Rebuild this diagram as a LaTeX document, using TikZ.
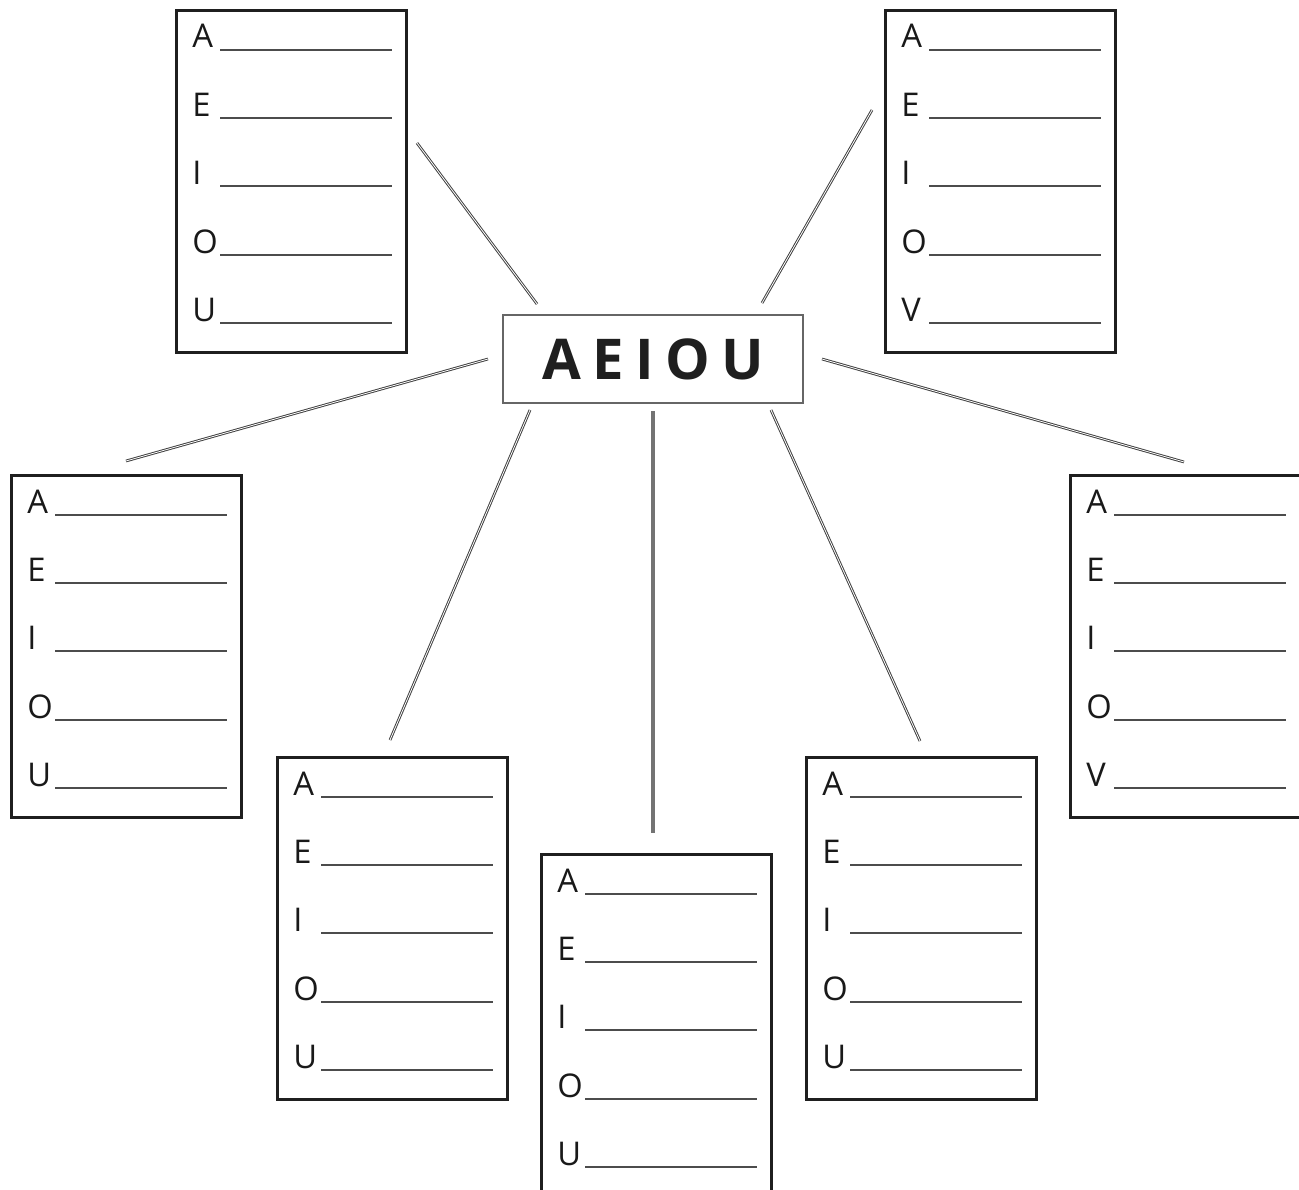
\documentclass[tikz,border=0pt]{standalone}
\usepackage{fontspec}
\setmainfont{Open Sans}
\usetikzlibrary{calc}
\tikzset{
  x=0.02cm, y=-0.02cm,
  card/.style={draw=black!88, line width=1.6pt, fill=white, minimum width=4.6cm, minimum height=6.84cm, inner sep=0pt},
  letter/.style={inner sep=0pt, font=\fontsize{18.6}{20}\selectfont, text=black!90},
  wline/.style={draw=black!70, line width=1.134pt},
  centerbox/.style={draw=black!60, line width=1.2pt, minimum width=6cm, minimum height=1.76cm, inner sep=0pt},
  conn/.style={draw=black!75, line width=0.55pt, double=white, double distance=0.45pt},
  solidconn/.style={draw=black!55, line width=1.9pt}
}
\newcommand{\mycard}[4]{%
  \node[card, anchor=north west] (#1) at (#2,#3) {};
  \foreach \L/\o [count=\i] in {#4} {
    \node[letter, anchor=base west] (#1-l\i) at ($(#1.north west)+(17,\o-2)$) {\L};
    \draw[wline] ($(#1.north west)+(45,\o)$) -- ($(#1.north east)+(-16,\o)$);
  }%
}
\begin{document}
\begin{tikzpicture}
\clip (0,0) rectangle (1299,1190);
\fill[white] (0,0) rectangle (1299,1190);

\mycard{tl}{175}{9}{A/41,E/109,I/177,O/246,U/314}
\mycard{tr}{884}{9}{A/41,E/109,I/177,O/246,V/314}
\mycard{lm}{10}{474}{A/41,E/109,I/177,O/246,U/314}
\mycard{rm}{1069}{474}{A/41,E/109,I/177,O/246,V/314}
\mycard{blc}{276}{756}{A/41,E/109,I/177,O/246,U/314}
\mycard{bc}{540}{853}{A/41,E/109,I/177,O/246,U/314}
\mycard{brc}{805}{756}{A/41,E/109,I/177,O/246,U/314}

\node[centerbox] (center) at (653,359) {\fontsize{32}{34}\selectfont\bfseries\color{black!88}A\kern6.5pt E\kern6.5pt I\kern6.5pt O\kern6.5pt U};

\coordinate (a1) at (537,304); \coordinate (b1) at (417,143);
\coordinate (a2) at (762,303); \coordinate (b2) at (872,110);
\coordinate (a3) at (488,359); \coordinate (b3) at (126,461);
\coordinate (a4) at (822,359); \coordinate (b4) at (1184,462);
\coordinate (a5) at (530,410); \coordinate (b5) at (390,740);
\coordinate (a6) at (653,411); \coordinate (b6) at (653,833);
\coordinate (a7) at (771,410); \coordinate (b7) at (920,741);

\draw[conn] (a1) -- (b1);
\draw[conn] (a2) -- (b2);
\draw[conn] (a3) -- (b3);
\draw[conn] (a4) -- (b4);
\draw[conn] (a5) -- (b5);
\draw[solidconn] (a6) -- (b6);
\draw[conn] (a7) -- (b7);
\end{tikzpicture}
\end{document}
